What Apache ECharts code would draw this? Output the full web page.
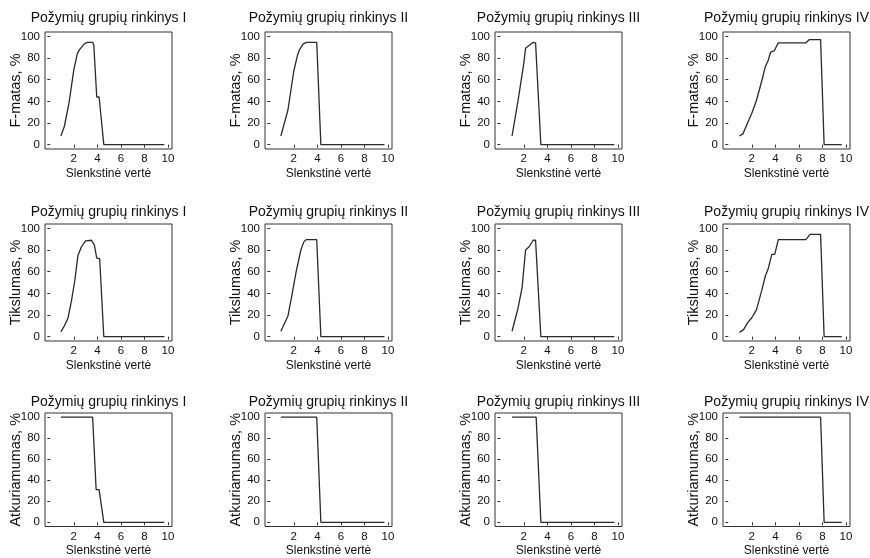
<!DOCTYPE html>
<html>
<head>
<meta charset="utf-8">
<script src="https://cdn.jsdelivr.net/npm/echarts@6/dist/echarts.min.js"></script>
<style>
html,body{margin:0;padding:0;background:#fff;}
#chart{width:870px;height:558px;}
</style>
</head>
<body>
<div id="chart"></div>
<script>
// ---- Data ----
const panelTitles = ["Požymių grupių rinkinys I", "Požymių grupių rinkinys II", "Požymių grupių rinkinys III", "Požymių grupių rinkinys IV"];
const yNames = ["F-matas, %", "Tikslumas, %", "Atkuriamumas, %"];
const xName = "Slenkstinė vertė";
const xTicks = [2, 4, 6, 8, 10];
const yTicks = [0, 20, 40, 60, 80, 100];

// F-matas [threshold, %]
const fmatas_I = [[0.9,8],[1.2,17],[1.6,39],[2.0,69],[2.3,84],[2.5,88],[2.9,93],[3.15,94.5],[3.6,94.5],[3.7,92],[3.95,44],[4.15,44],[4.55,0],[9.7,0]];
const fmatas_II = [[0.9,8],[1.5,32],[2.0,68],[2.3,82],[2.5,88],[2.8,93],[3.1,94.5],[3.95,94.5],[4.3,0],[9.7,0]];
const fmatas_III = [[1.0,8],[1.5,40],[2.0,75],[2.15,89],[2.5,92],[2.8,94.5],[3.0,94],[3.45,0],[9.7,0]];
const fmatas_IV = [[0.95,8],[1.25,10],[1.6,19],[2.0,29],[2.4,41],[2.85,59],[3.15,72],[3.4,78],[3.6,85.5],[3.9,86.5],[4.25,94],[6.6,94],[6.9,97],[7.85,97],[8.15,0],[9.65,0]];

// Tikslumas [threshold, %]
const tikslumas_I = [[0.9,4.5],[1.2,10],[1.5,17],[1.8,33],[2.1,53],[2.35,75],[2.65,83],[3.0,88.5],[3.5,89],[3.75,84.5],[3.95,72.5],[4.2,72],[4.55,0],[9.7,0]];
const tikslumas_II = [[0.9,5],[1.5,19],[1.85,39],[2.2,60],[2.6,80],[2.85,87.5],[3.05,89.5],[3.95,89.5],[4.3,0],[9.7,0]];
const tikslumas_III = [[1.0,5],[1.5,26],[1.85,45],[2.15,80],[2.45,83],[2.8,89],[3.0,89],[3.45,0],[9.7,0]];
const tikslumas_IV = [[0.95,4],[1.3,6.5],[1.65,13],[2.0,17.5],[2.4,25],[2.85,43],[3.15,56],[3.4,63],[3.7,76],[3.95,76],[4.25,89.5],[6.6,89.5],[6.95,94.5],[7.85,94.5],[8.15,0],[9.65,0]];

// Atkuriamumas [threshold, %]
const atkuriamumas_I = [[0.9,100],[3.6,100],[3.9,31],[4.15,31],[4.55,0],[9.7,0]];
const atkuriamumas_II = [[0.9,100],[3.95,100],[4.3,0],[9.7,0]];
const atkuriamumas_III = [[1.0,100],[3.05,100],[3.45,0],[9.7,0]];
const atkuriamumas_IV = [[0.95,100],[7.85,100],[8.15,0],[9.65,0]];

const rows = [
  [fmatas_I, fmatas_II, fmatas_III, fmatas_IV],
  [tikslumas_I, tikslumas_II, tikslumas_III, tikslumas_IV],
  [atkuriamumas_I, atkuriamumas_II, atkuriamumas_III, atkuriamumas_IV]
];

// ---- Layout ----
const colLeft = [45, 265, 495, 723];
const rowTop = [32, 224, 413];
const gw = 127, gh = 117;
const titleCenterY = [18, 212, 402];
const FONT = "'Liberation Sans', Arial, sans-serif";
const TXT = '#111';
const LINE = '#2a2a2a';

const grid = [], xAxis = [], yAxis = [], series = [], title = [];
rows.forEach((row, r) => {
  row.forEach((data, c) => {
    const i = r * 4 + c;
    grid.push({left: colLeft[c], top: rowTop[r], width: gw, height: gh, show: true, borderColor: '#333', borderWidth: 1, backgroundColor: 'transparent'});
    xAxis.push({
      type: 'value', gridIndex: i, min: -0.45, max: 10.35,
      name: xName, nameLocation: 'middle', nameGap: 18.5, nameMoveOverlap: false,
      nameTextStyle: {fontFamily: FONT, fontSize: 12, color: TXT},
      axisLine: {show: false},
      axisTick: {show: true, inside: false, length: 3, customValues: xTicks, lineStyle: {color: '#333'}},
      axisLabel: {show: true, margin: 4, customValues: xTicks, fontFamily: FONT, fontSize: 11.5, color: TXT},
      splitLine: {show: false}
    });
    yAxis.push({
      type: 'value', gridIndex: i, min: -4, max: 104,
      name: yNames[r], nameLocation: 'middle', nameGap: 22, nameRotate: 90, nameMoveOverlap: false,
      nameTextStyle: {fontFamily: FONT, fontSize: 14.5, color: TXT},
      axisLine: {show: false},
      axisTick: {show: true, inside: false, length: 3, customValues: yTicks, lineStyle: {color: '#333'}},
      axisLabel: {show: true, margin: 5, customValues: yTicks, fontFamily: FONT, fontSize: 11.5, color: TXT},
      splitLine: {show: false}
    });
    series.push({
      type: 'line', xAxisIndex: i, yAxisIndex: i, data: data,
      showSymbol: false, symbol: 'none', animation: false,
      lineStyle: {color: LINE, width: 1.3}
    });
    title.push({
      text: panelTitles[c], left: colLeft[c] + gw / 2, top: titleCenterY[r] - 8,
      textAlign: 'center', padding: 0,
      textStyle: {fontFamily: FONT, fontSize: 14, fontWeight: 'normal', color: TXT, lineHeight: 16}
    });
  });
});

const chart = echarts.init(document.getElementById('chart'), null, {renderer: 'canvas'});
chart.setOption({animation: false, backgroundColor: '#fff', title, grid, xAxis, yAxis, series});
</script>
</body>
</html>
